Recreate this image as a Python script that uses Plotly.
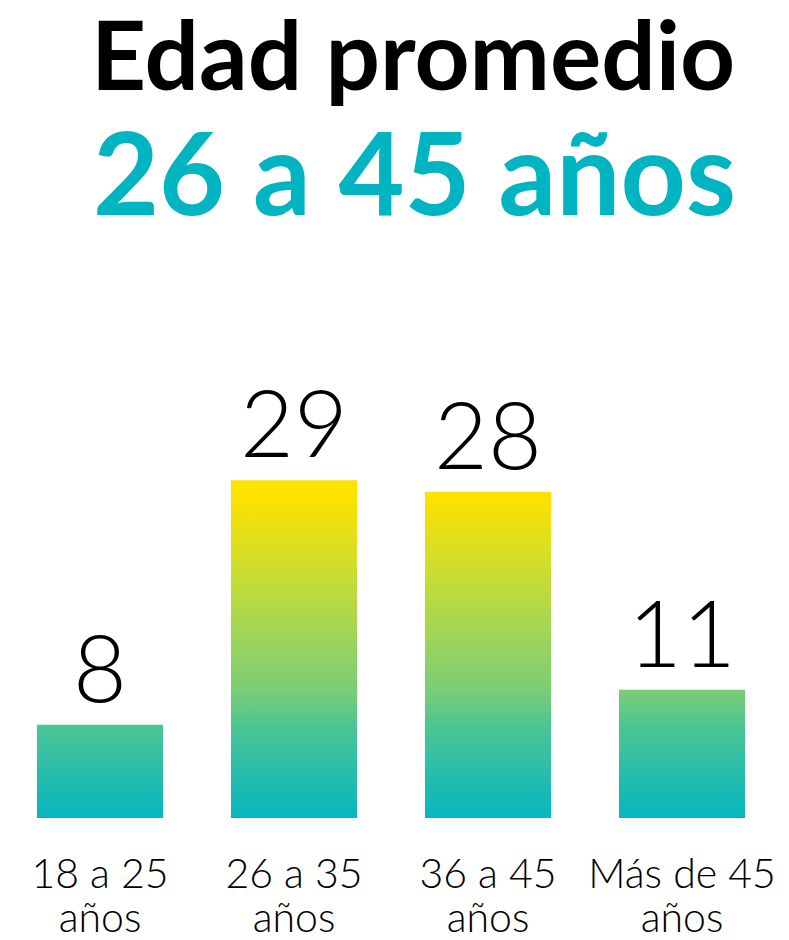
import plotly.graph_objects as go

# ------------------------------------------------
# DATA
# ------------------------------------------------
categorias = ["18 a 25<br>años", "26 a 35<br>años", "36 a 45<br>años", "Más de 45<br>años"]
valores = [8, 29, 28, 11]

titulo = "Edad promedio"
subtitulo = "26 a 45 años"

TEAL = "#00B5C1"
gradiente = [
    [0.0, "#06B6C1"],
    [0.28, "#4AC595"],
    [0.40, "#7BCD76"],
    [0.60, "#A6D652"],
    [0.80, "#D2DE2B"],
    [1.0, "#FDE100"],
]

FONT = "Lato"
ANCHO = 0.325

linea1 = [c.split("<br>")[0] for c in categorias]
linea2 = [c.split("<br>")[1] for c in categorias]
posiciones = list(range(len(categorias)))

fig = go.Figure()

# ------------------------------------------------
# BARS (vertical gradient, in data units)
# ------------------------------------------------
for i, v in enumerate(valores):
    fig.add_trace(go.Scatter(
        x=[i - ANCHO, i - ANCHO, i + ANCHO, i + ANCHO, i - ANCHO],
        y=[0, v, v, 0, 0],
        mode="none",
        fill="toself",
        fillgradient=dict(
            type="vertical",
            start=0,
            stop=27.5,
            colorscale=gradiente
        ),
        hoverinfo="skip",
        showlegend=False
    ))

# value labels
fig.add_trace(go.Scatter(
    x=posiciones,
    y=valores,
    mode="text",
    text=[str(v) for v in valores],
    textposition="top center",
    textfont=dict(family=FONT, size=93, color="black", weight=300),
    cliponaxis=False,
    hoverinfo="skip",
    showlegend=False
))

# dummy trace so the second x axis is drawn
fig.add_trace(go.Scatter(
    x=posiciones, y=[0] * len(posiciones), xaxis="x2",
    mode="none", hoverinfo="skip", showlegend=False
))

# ------------------------------------------------
# LAYOUT
# ------------------------------------------------
tick_font = dict(family=FONT, size=41, color="black", weight=300)

fig.update_layout(
    width=789,
    height=940,
    margin=dict(l=3, r=10, t=387, b=122),
    paper_bgcolor="white",
    plot_bgcolor="white",
    showlegend=False,
    annotations=[
        dict(
            text=f"<b>{titulo}</b>", x=0.528, y=1.775, xref="paper", yref="paper",
            xanchor="center", yanchor="middle", showarrow=False,
            font=dict(family=FONT, size=96, color="black")
        ),
        dict(
            text=f"<b>{subtitulo}</b>", x=0.53, y=1.502, xref="paper", yref="paper",
            xanchor="center", yanchor="middle", showarrow=False,
            font=dict(family=FONT, size=114, color=TEAL)
        ),
    ],
    xaxis=dict(
        range=[-0.5, 3.5],
        tickvals=posiciones,
        ticktext=linea1,
        tickfont=tick_font,
        ticklabelstandoff=28,
        automargin=False,
        showgrid=False,
        zeroline=False,
        showline=False,
        fixedrange=True
    ),
    xaxis2=dict(
        range=[-0.5, 3.5],
        overlaying="x",
        anchor="y",
        side="bottom",
        tickvals=posiciones,
        ticktext=linea2,
        tickfont=tick_font,
        ticklabelstandoff=72,
        automargin=False,
        showgrid=False,
        zeroline=False,
        showline=False,
        fixedrange=True
    ),
    yaxis=dict(
        range=[0, 37],
        visible=False,
        automargin=False,
        showgrid=False,
        zeroline=False,
        fixedrange=True
    )
)

fig.write_html(
    "out.html",
    config={"displayModeBar": False},
    post_script="document.body.style.margin='0';document.body.style.overflow='hidden';"
)
